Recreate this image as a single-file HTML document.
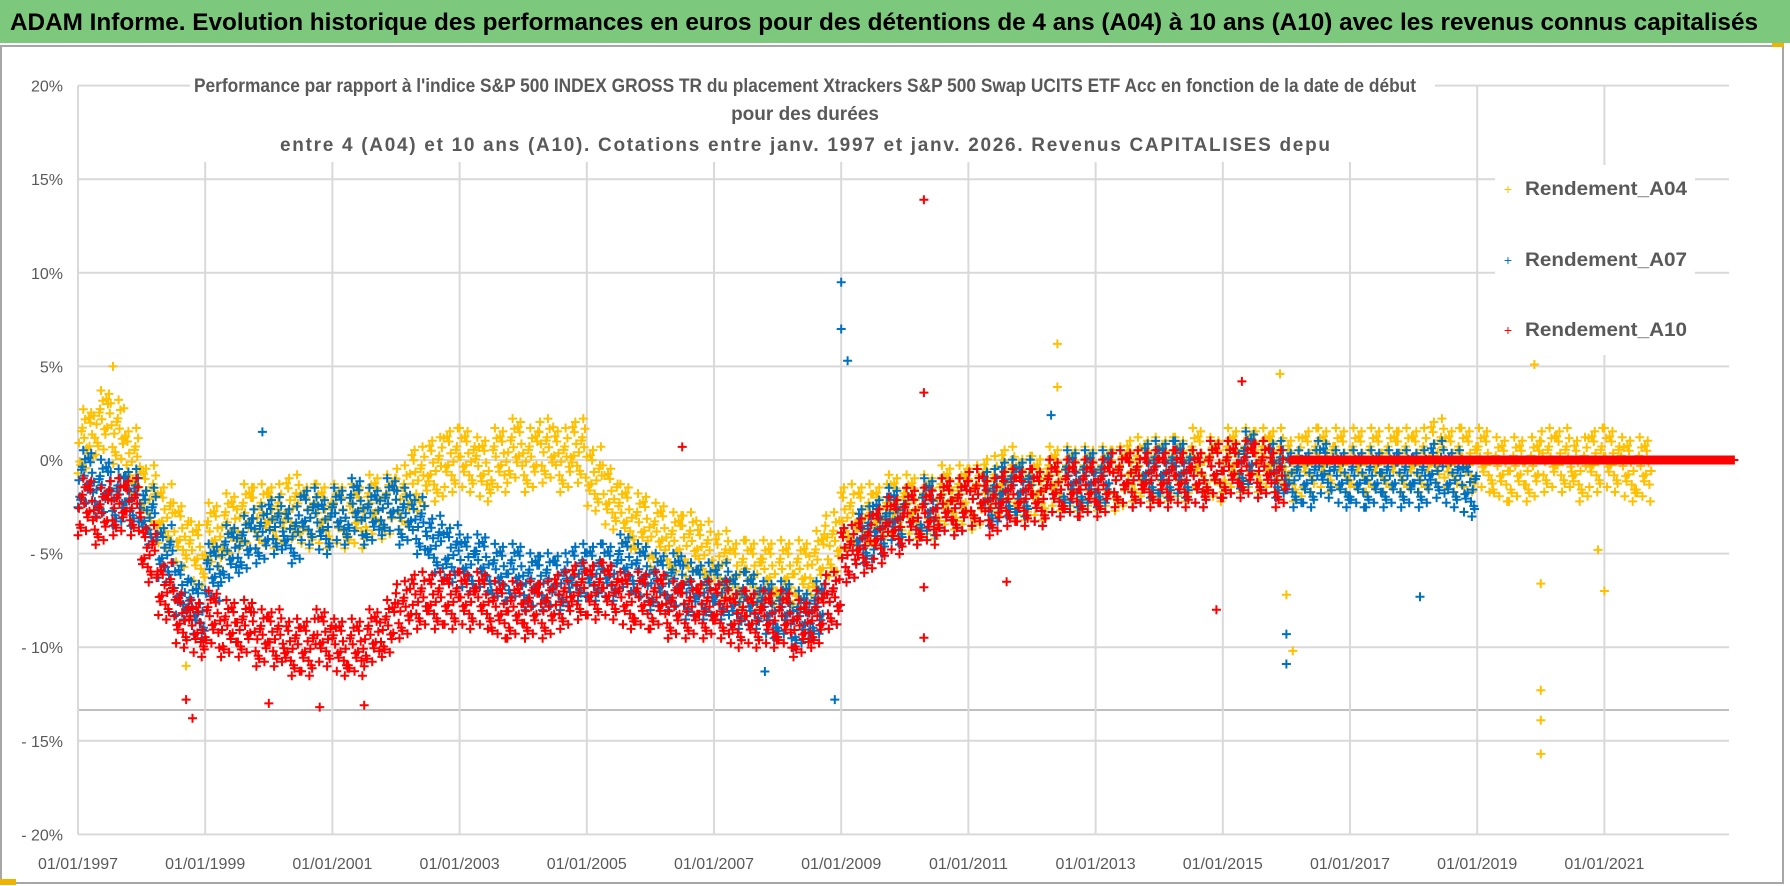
<!DOCTYPE html>
<html><head><meta charset="utf-8">
<style>
html,body{margin:0;padding:0;background:#fff;}
svg{display:block;font-family:"Liberation Sans",sans-serif;}
</style></head>
<body>
<svg id="chart" width="1790" height="886" viewBox="0 0 1790 886" xmlns="http://www.w3.org/2000/svg">
  <rect x="0" y="0" width="1790" height="43" fill="#7cc87c"/>
  <text x="10" y="30" font-size="24" font-weight="bold" fill="#000" textLength="1748" lengthAdjust="spacingAndGlyphs">ADAM Informe. Evolution historique des performances en euros pour des détentions de 4 ans (A04) à 10 ans (A10) avec les revenus connus capitalisés</text>
  <rect x="1" y="46" width="1782" height="837" fill="none" stroke="#a6a6a6" stroke-width="2"/>
  <rect x="0" y="879" width="16" height="6" fill="#f0b400"/>
  <rect x="1772" y="43" width="12" height="4" fill="#f0b400"/>
  <g id="grid"></g>
  <g id="marks"></g>
  <g id="axes"></g>
  <rect x="190" y="70" width="1245" height="92" fill="#fff"/>
  <g font-size="19" font-weight="bold" fill="#595959" text-anchor="middle">
    <text x="805" y="92" textLength="1222" lengthAdjust="spacingAndGlyphs">Performance par rapport à l'indice S&amp;P 500 INDEX GROSS TR  du placement Xtrackers S&amp;P 500 Swap UCITS ETF Acc en fonction de la date de début</text>
    <text x="805" y="120">pour des durées</text>
    <text x="805" y="151" textLength="1050" lengthAdjust="spacing">entre 4 (A04) et 10 ans (A10).  Cotations entre janv. 1997 et janv. 2026. Revenus CAPITALISES depu</text>
  </g>
  <rect x="1495" y="165" width="200" height="190" fill="#fff"/>
  <g font-size="19" font-weight="bold" fill="#595959">
    <g><text x="1508" y="194" font-size="14" fill="#ffc000" font-weight="normal" text-anchor="middle">+</text><text x="1525" y="195" textLength="162" lengthAdjust="spacingAndGlyphs">Rendement_A04</text></g>
    <g><text x="1508" y="265" font-size="14" fill="#0070c0" font-weight="normal" text-anchor="middle">+</text><text x="1525" y="266" textLength="162" lengthAdjust="spacingAndGlyphs">Rendement_A07</text></g>
    <g><text x="1508" y="335" font-size="14" fill="#ff0000" font-weight="normal" text-anchor="middle">+</text><text x="1525" y="336" textLength="162" lengthAdjust="spacingAndGlyphs">Rendement_A10</text></g>
  </g>
</svg>
<script>
// ---- data (quarterly, starting 1997.0) ----
const a04Start = 1997.0;
const a04 = [1,2,1.5,0,-2,-3,-4,-5,-4,-3.5,-3,-3,-3,-2.5,-3,-3,-3,-3,-2.5,-2.5,-2,-1,-0.5,0,0,-0.5,0,0.5,0,0.5,0,0.5,-1,-2,-3,-3.5,-4,-4.5,-4.5,-5,-5.5,-6,-6,-6,-6,-6,-5.5,-4.5,-3,-3,-3,-2.5,-2.5,-2.5,-2,-2,-2,-1.5,-1,-1.5,-1.5,-1,-1,-1,-1,-1,-0.5,-0.5,-0.5,-0.5,0,-0.5,0,0,0,0,-0.5,0,0,0,0,0,0,0,0,0.5,0,0,0,-0.5,-0.5,-0.5,0,0,-0.5,0,0,-0.5,-0.5];
const a07Start = 1997.0;
const a07 = [-1,-1.5,-2,-2,-3,-5,-7,-8,-6,-5,-4.5,-4,-3.5,-4,-3,-3.5,-3,-2.5,-3,-2.5,-3,-3.5,-4.5,-5,-5.5,-5.5,-6,-6,-6.5,-6.5,-6.5,-6,-6,-6,-5.5,-6,-6.5,-6.5,-7,-7,-7,-7.5,-7.5,-8,-8,-8.5,-8,-7.5,-5,-4,-3.5,-3,-3,-2.5,-2.5,-2.5,-2,-2,-1.5,-1.5,-2,-1.5,-1,-1,-1,-1,-1,-0.5,-0.5,-0.5,-1,-0.5,-0.5,0,-0.5,-0.5,-1,-1,-0.5,-1,-1,-1,-1,-1,-1,-0.5,-1,-1.5];
const a10Start = 1997.0;
const a10 = [-2.5,-3,-2.5,-2.5,-5,-7,-8.5,-9,-8.5,-9,-9,-9.5,-9.5,-10,-10,-9.5,-10,-10,-9.5,-9,-8,-7.5,-7.5,-7.5,-7.5,-7.5,-8,-8,-8,-8,-7.5,-7,-7,-7,-7.5,-7.5,-7.5,-8,-8,-8,-8,-8.5,-8.5,-8.5,-8.5,-9,-8.5,-7.5,-5,-4.5,-4,-3.5,-3,-3,-2.5,-2.5,-2,-2.5,-2,-2,-2,-1.5,-1.5,-1.5,-1.5,-1,-1,-1,-1,-1,-1,-0.5,-0.5,-0.5,-0.5,-1];
const a10FlatStart = 2016.05;
const a10Flat = [0,0,0,0,0,0,0,0,0,0,0,0,0,0,0,0,0,0,0,0,0,0,0,0,0,0,0,0];
const spreadA04 = 1.8, spreadA07 = 1.6, spreadA10 = 1.6;
const outA04x = [1997.55,2012.4,2012.4,2015.9,2016.0,2016.1,2019.9,2020.0,2020.0,2020.0,2020.0,2021.0,2020.9,1998.7];
const outA04y = [5,6.2,3.9,4.6,-7.2,-10.2,5.1,-6.6,-12.3,-13.9,-15.7,-7,-4.8,-11];
const outA07x = [2009.0,2009.0,2009.1,2008.9,2016.0,2016.0,2018.1,2007.8,1999.9,2012.3];
const outA07y = [9.5,7,5.3,-12.8,-9.3,-10.9,-7.3,-11.3,1.5,2.4];
const outA10x = [2010.3,2010.3,2010.3,1998.8,1998.7,2000.0,2001.5,2000.8,2006.5,2015.3,2011.6,2010.3,2014.9];
const outA10y = [13.9,3.6,-9.5,-13.8,-12.8,-13,-13.1,-13.2,0.7,4.2,-6.5,-6.8,-8];
const yTicks = [20,15,10,5,0,-5,-10,-15,-20];
const yTickLabels = ["20%","15%","10%","5%","0%","- 5%","- 10%","- 15%","- 20%"];
const xTicks = [1997,1999,2001,2003,2005,2007,2009,2011,2013,2015,2017,2019,2021];
const xTickLabels = ["01/01/1997","01/01/1999","01/01/2001","01/01/2003","01/01/2005","01/01/2007","01/01/2009","01/01/2011","01/01/2013","01/01/2015","01/01/2017","01/01/2019","01/01/2021"];

const NS = "http://www.w3.org/2000/svg";
const X0 = 78, PXY = 63.6, Y0 = 460, PXV = 18.72;
function xs(t){return X0 + (t-1997)*PXY;}
function ys(v){return Y0 - v*PXV;}
function mk(tag, attrs, parent){const e=document.createElementNS(NS,tag);for(const k in attrs)e.setAttribute(k,attrs[k]);parent.appendChild(e);return e;}

const grid = document.getElementById('grid');
for (let i=0;i<yTicks.length;i++){
  const l = mk('line',{x1:X0,x2:1729,y1:ys(yTicks[i]),y2:ys(yTicks[i]),stroke:'#d9d9d9','stroke-width':2},grid);
  
  
}
const ex = mk('line',{x1:X0,x2:1729,y1:710,y2:710,stroke:'#bfbfbf','stroke-width':2},grid);


for (let i=0;i<xTicks.length;i++){
  const l = mk('line',{x1:xs(xTicks[i]),x2:xs(xTicks[i]),y1:ys(20),y2:ys(-20),stroke:'#d9d9d9','stroke-width':2},grid);
  
  
}
const axes = document.getElementById('axes');
for (let i=0;i<yTicks.length;i++){
  const t = mk('text',{x:63,y:ys(yTicks[i])+6,'font-size':16,fill:'#595959','text-anchor':'end'},axes);
  t.textContent = yTickLabels[i];
  
  
}
for (let i=0;i<xTicks.length;i++){
  const t = mk('text',{x:xs(xTicks[i]),y:869,'font-size':16,fill:'#595959','text-anchor':'middle'},axes);
  t.textContent = xTickLabels[i];
  
  
}

const marks = document.getElementById('marks');
// fixed, irregular offset pattern used to render the spread around each quarterly value
const pattern = [-0.95,0.4,-0.2,0.85,-0.6,0.1,0.7,-0.45,0.3,-0.8,0.55,-0.05,0.95,-0.35,0.2,-0.7,0.65,-0.15];
function plus(g,x,y,c){
  const p = mk('path',{d:`M${(x-4.5).toFixed(1)} ${y.toFixed(1)}h9M${x.toFixed(1)} ${(y-4.5).toFixed(1)}v9`,stroke:c,'stroke-width':2,fill:'none'},g);
  
  
}
function series(name, start, vals, spread, color){
  const g = mk('g',{},marks);
  
  
  const n = pattern.length;
  for (let i=0;i<vals.length;i++){
    for (let j=0;j<n;j++){
      const t = start + i*0.25 + ((j*7+i*3)%n)*0.25/n;
      plus(g, xs(t), ys(vals[i] + spread*pattern[(j*5+i*11)%n]), color);
    }
  }
  return g;
}
function outliers(g, xv, yv, color){
  for (let i=0;i<xv.length;i++) plus(g, xs(xv[i]), ys(yv[i]), color);
}
const gA04 = series('series-a04', a04Start, a04, spreadA04, '#ffc000');
outliers(gA04, outA04x, outA04y, '#ffc000');
const gA07 = series('series-a07', a07Start, a07, spreadA07, '#0070c0');
outliers(gA07, outA07x, outA07y, '#0070c0');
const gA10 = series('series-a10', a10Start, a10, spreadA10, '#ff0000');
outliers(gA10, outA10x, outA10y, '#ff0000');
series('series-a10-flat', a10FlatStart, a10Flat, 0, '#ff0000');
</script>
</body></html>
